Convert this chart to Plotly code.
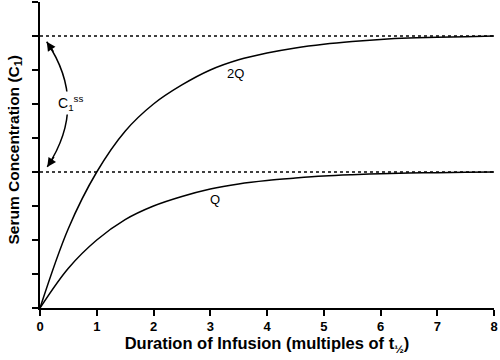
import plotly.graph_objects as go

# Duration of infusion (multiples of half-life)
t = [0, 0.5, 1, 1.5, 2, 2.5, 3, 3.5, 4, 4.5, 5, 5.5, 6, 6.5, 7, 7.5, 8]
# Serum concentration, infusion rate Q
conc_q = [0, 1.17, 2.0, 2.6, 3.0, 3.28, 3.5, 3.65, 3.75, 3.82, 3.88, 3.92, 3.95, 3.97, 3.98, 3.99, 4.0]
# Serum concentration, infusion rate 2Q
conc_2q = [0, 2.34, 4.0, 5.2, 6.0, 6.56, 7.0, 7.3, 7.5, 7.65, 7.76, 7.84, 7.9, 7.94, 7.96, 7.98, 8.0]
# Steady-state plateaus
plateaus = [4, 8]
x_ticks = [0, 1, 2, 3, 4, 5, 6, 7, 8]
y_ticks = [0, 1, 2, 3, 4, 5, 6, 7, 8, 9]

FONT = "Liberation Sans, Arial, sans-serif"

fig = go.Figure()

for p in plateaus:
    fig.add_trace(go.Scatter(x=[x_ticks[0], x_ticks[-1]], y=[p, p], mode="lines",
                             line=dict(color="black", width=1.5, dash="dot"),
                             hoverinfo="skip", showlegend=False))

fig.add_trace(go.Scatter(x=t, y=conc_q, mode="lines", line=dict(color="black", width=1.5, shape="spline"),
                         showlegend=False))
fig.add_trace(go.Scatter(x=t, y=conc_2q, mode="lines", line=dict(color="black", width=1.5, shape="spline"),
                         showlegend=False))

# curved double arrow for Css
fig.add_shape(type="path", path="M 0.118,7.83 Q 0.857,6.0 0.128,4.15", xref="x", yref="y",
              line=dict(color="black", width=1.5))
fig.add_annotation(x=0.118, y=7.83, ax=8, ay=12, showarrow=True, arrowhead=2, arrowsize=1.2,
                   arrowwidth=1.5, arrowcolor="black", text=" ", font=dict(size=1))
fig.add_annotation(x=0.128, y=4.15, ax=8, ay=-12, showarrow=True, arrowhead=2, arrowsize=1.2,
                   arrowwidth=1.5, arrowcolor="black", text=" ", font=dict(size=1))
fig.add_annotation(x=0.53, y=6.03, text="C<sub>1</sub><sup>ss</sup>", showarrow=False,
                   bgcolor="white", font=dict(family=FONT, size=14, color="black"))

fig.add_annotation(x=3.44, y=6.9, text="2Q", showarrow=False, font=dict(family=FONT, size=13, color="black"))
fig.add_annotation(x=3.08, y=3.18, text="Q", showarrow=False, font=dict(family=FONT, size=13, color="black"))

# y-axis title placed as a rotated annotation
fig.add_annotation(xref="paper", yref="paper", x=-0.057, y=0.515, textangle=-90,
                   xanchor="center", yanchor="middle", showarrow=False,
                   text="Serum Concentration (C<sub>1</sub>)",
                   font=dict(family=FONT, size=15.5, color="black", weight="bold"))

fig.update_xaxes(range=[0, 8], tickvals=x_ticks, ticks="outside", ticklen=6, tickwidth=1.5,
                 tickcolor="black", showline=True, linecolor="black", linewidth=1.5,
                 showgrid=False, zeroline=False, automargin=False,
                 tickfont=dict(family=FONT, size=13, color="black", weight="bold"),
                 title=dict(text="Duration of Infusion (multiples of t<sub>½</sub>)", standoff=4,
                            font=dict(family=FONT, size=16.5, color="black", weight="bold")))
fig.update_yaxes(range=[0, 9], tickvals=y_ticks, showticklabels=False, ticks="outside",
                 ticklen=6, tickwidth=1.5, tickcolor="black", showline=True, linecolor="black",
                 linewidth=1.5, showgrid=False, zeroline=False, automargin=False)

fig.update_layout(width=500, height=360, margin=dict(l=40, r=6, t=2, b=52),
                  plot_bgcolor="white", paper_bgcolor="white")

fig.write_html("out.html", config={"displayModeBar": False},
               post_script="document.body.style.margin='0';")
